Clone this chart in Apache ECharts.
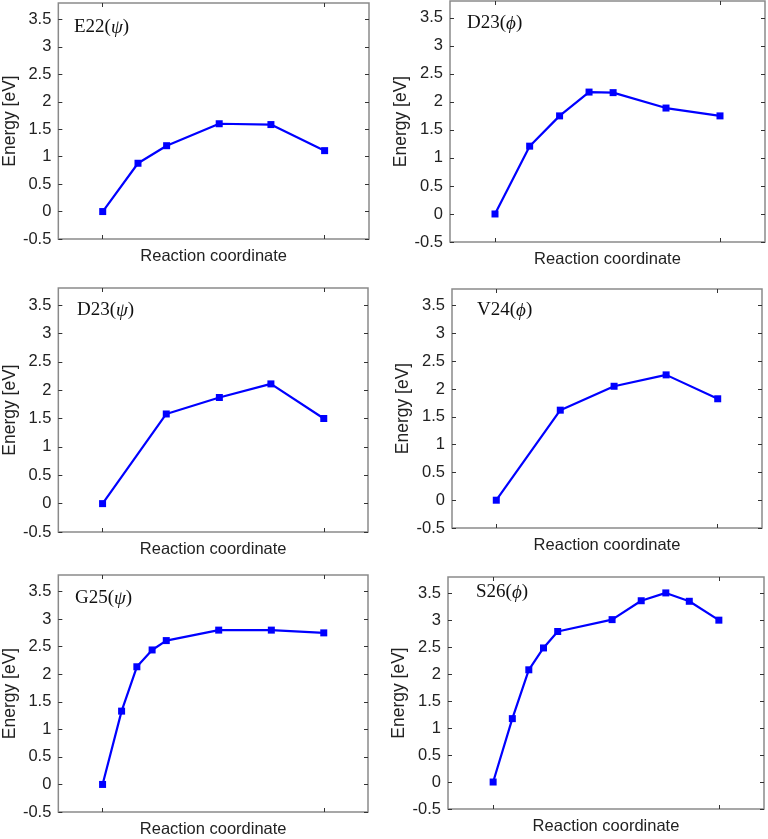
<!DOCTYPE html>
<html>
<head>
<meta charset="utf-8">
<script src="https://cdn.jsdelivr.net/npm/echarts@6/dist/echarts.min.js"></script>
<style>
  html, body { margin: 0; padding: 0; background: #fff; }
  #chart { width: 768px; height: 839px; }
</style>
</head>
<body>
<div id="chart"></div>
<script>
// reaction coordinate (normalised) and energies [eV] per residue
const e22PsiX = [0, 0.159, 0.288, 0.525, 0.758, 1];
const e22PsiY = [0, 0.88, 1.20, 1.60, 1.585, 1.11];

const d23PhiX = [0, 0.154, 0.287, 0.418, 0.525, 0.760, 1];
const d23PhiY = [0, 1.21, 1.75, 2.175, 2.165, 1.89, 1.75];

const d23PsiX = [0, 0.288, 0.528, 0.761, 1];
const d23PsiY = [0, 1.58, 1.87, 2.11, 1.50];

const v24PhiX = [0, 0.289, 0.532, 0.767, 1];
const v24PhiY = [0, 1.62, 2.05, 2.255, 1.825];

const g25PsiX = [0, 0.086, 0.155, 0.224, 0.288, 0.525, 0.763, 1];
const g25PsiY = [0, 1.33, 2.135, 2.44, 2.61, 2.80, 2.80, 2.75];

const s26PhiX = [0, 0.085, 0.158, 0.223, 0.286, 0.527, 0.656, 0.765, 0.869, 1];
const s26PhiY = [0, 1.175, 2.08, 2.485, 2.79, 3.01, 3.36, 3.505, 3.35, 3.0];

const yTicks = [-0.5, 0, 0.5, 1, 1.5, 2, 2.5, 3, 3.5];
const xTicks = [0, 1];

const panels = [
  { label: ['E22(', 'ψ', ')'], xs: e22PsiX, ys: e22PsiY },
  { label: ['D23(', 'ϕ', ')'], xs: d23PhiX, ys: d23PhiY },
  { label: ['D23(', 'ψ', ')'], xs: d23PsiX, ys: d23PsiY },
  { label: ['V24(', 'ϕ', ')'], xs: v24PhiX, ys: v24PhiY },
  { label: ['G25(', 'ψ', ')'], xs: g25PsiX, ys: g25PsiY },
  { label: ['S26(', 'ϕ', ')'], xs: s26PhiX, ys: s26PhiY }
];

const boxes = [
  { left: 52, top: 3, width: 317, height: 236, tl: 74, tt: 18 },
  { left: 450, top: 1, width: 315, height: 241, tl: 467, tt: 14 },
  { left: 52, top: 288, width: 316, height: 244, tl: 77, tt: 301 },
  { left: 452, top: 289, width: 310, height: 239, tl: 477, tt: 301 },
  { left: 54, top: 575, width: 314, height: 241, tl: 75, tt: 589 },
  { left: 448, top: 577, width: 316, height: 232, tl: 476, tt: 583 }
];

const sans = 'Liberation Sans, Arial, sans-serif';
const serif = 'Liberation Serif, Times New Roman, serif';
const tickStyle = { show: true, inside: true, length: 4, lineStyle: { color: '#333', width: 1 } };
const noLine = { show: false, onZero: false };

const chart = echarts.init(document.getElementById('chart'));

const grid = [], xAxis = [], yAxis = [], series = [], title = [];

panels.forEach((p, i) => {
  const b = boxes[i];
  grid.push({
    left: b.left, top: b.top, width: b.width, height: b.height,
    show: true, borderColor: '#8a8a8a', borderWidth: 1.5, backgroundColor: 'transparent'
  });
  // bottom axis with name
  xAxis.push({
    type: 'value', gridIndex: i, min: -0.2, max: 1.2,
    name: 'Reaction coordinate', nameLocation: 'middle', nameGap: 9,
    nameTextStyle: { fontFamily: sans, fontSize: 16.5, color: '#222' },
    axisLine: noLine,
    axisTick: Object.assign({ customValues: xTicks }, tickStyle),
    axisLabel: { show: false },
    splitLine: { show: false }
  });
  // top axis, ticks only
  xAxis.push({
    type: 'value', gridIndex: i, min: -0.2, max: 1.2, position: 'top',
    axisLine: noLine,
    axisTick: Object.assign({ customValues: xTicks }, tickStyle),
    axisLabel: { show: false },
    splitLine: { show: false }
  });
  yAxis.push({
    type: 'value', gridIndex: i, min: -0.5, max: 3.8,
    name: 'Energy [eV]', nameLocation: 'middle', nameGap: 35,
    nameTextStyle: { fontFamily: sans, fontSize: 17.5, color: '#222' },
    axisLine: noLine,
    axisTick: Object.assign({ customValues: yTicks }, tickStyle),
    axisLabel: { customValues: yTicks, margin: 7, fontFamily: sans, fontSize: 16.5, color: '#222' },
    splitLine: { show: false }
  });
  yAxis.push({
    type: 'value', gridIndex: i, min: -0.5, max: 3.8, position: 'right',
    axisLine: noLine,
    axisTick: Object.assign({ customValues: yTicks }, tickStyle),
    axisLabel: { show: false },
    splitLine: { show: false }
  });
  series.push({
    type: 'line',
    xAxisIndex: i * 2, yAxisIndex: i * 2,
    data: p.xs.map((x, k) => [x, p.ys[k]]),
    symbol: 'rect', symbolSize: 7,
    itemStyle: { color: '#0000ff' },
    lineStyle: { color: '#0000ff', width: 2.2 },
    silent: true
  });
  title.push({
    left: b.tl, top: b.tt, padding: 0,
    text: '{n|' + p.label[0] + '}{g|' + p.label[1] + '}{n|' + p.label[2] + '}',
    textStyle: {
      fontWeight: 'normal',
      rich: {
        n: { fontFamily: serif, fontSize: 19, fontWeight: 'normal', color: '#111' },
        g: { fontFamily: serif, fontSize: 19, fontWeight: 'normal', fontStyle: 'italic', color: '#111' }
      }
    }
  });
});

chart.setOption({
  backgroundColor: '#fff',
  animation: false,
  title: title,
  grid: grid,
  xAxis: xAxis,
  yAxis: yAxis,
  series: series
});

window.addEventListener('resize', () => chart.resize());
</script>
</body>
</html>
